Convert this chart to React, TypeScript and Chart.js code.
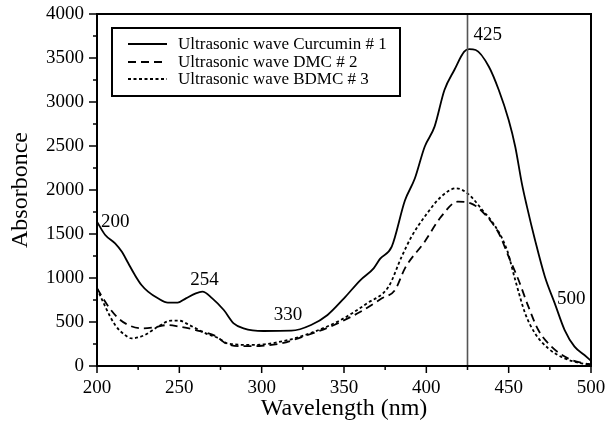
import React, { useEffect, useRef } from "react";
import { Chart, registerables } from "chart.js";

Chart.register(...registerables);

// ---- Data ----
const curcuminX = [200, 205, 211, 215, 219, 223, 227, 231, 237, 243, 249, 254, 260, 264, 270, 277, 283, 289, 301, 318, 330, 340, 350, 360, 368, 372, 379, 387, 393, 399, 405, 411, 417, 423, 426, 430, 438, 444, 450, 454, 458, 461, 466, 472, 478, 484, 490, 496, 500];
const curcuminY = [1640, 1489, 1394, 1300, 1167, 1034, 920, 845, 769, 720, 720, 769, 826, 845, 769, 636, 485, 428, 398, 401, 466, 580, 769, 977, 1110, 1220, 1356, 1880, 2130, 2492, 2720, 3136, 3364, 3572, 3600, 3591, 3401, 3136, 2795, 2492, 2076, 1820, 1432, 1015, 712, 409, 220, 125, 60];

const dmcX = [200, 207, 213, 219, 227, 235, 243, 250, 260, 272, 279, 290, 300, 312, 328, 344, 360, 373, 381, 387, 399, 409, 419, 427, 435, 444, 450, 456, 462, 468, 476, 486, 496, 500];
const dmcY = [883, 674, 542, 466, 428, 440, 466, 447, 409, 340, 250, 225, 230, 258, 352, 466, 617, 769, 864, 1110, 1413, 1697, 1867, 1849, 1735, 1508, 1242, 977, 674, 409, 220, 87, 30, 20];

const bdmcX = [200, 205, 211, 217, 221, 229, 237, 245, 250, 256, 266, 274, 279, 295, 316, 332, 348, 364, 377, 385, 391, 399, 409, 418, 425, 434, 442, 449, 454, 460, 466, 474, 484, 496, 500];
const bdmcY = [883, 674, 466, 352, 314, 352, 447, 515, 515, 466, 371, 314, 258, 239, 295, 390, 523, 712, 900, 1242, 1470, 1697, 1924, 2019, 1962, 1773, 1583, 1318, 977, 599, 371, 201, 87, 23, 15];

const seriesNames = ["Ultrasonic wave Curcumin # 1", "Ultrasonic wave DMC # 2", "Ultrasonic wave BDMC # 3"];

const peakLabels = ["200", "254", "330", "425", "500"];
const peakLabelX = [202.4, 256.7, 307.3, 428.7, 479.3];
const peakLabelY = [1580, 920, 523, 3705, 705];
const markerLine = 425;

const X_MIN = 200, X_MAX = 500, Y_MIN = 0, Y_MAX = 4000;

const SERIF = "'Liberation Serif', 'Times New Roman', serif";

const toPoints = (xs: number[], ys: number[]) => xs.map((x, i) => ({ x, y: ys[i] }));

const dashes: number[][] = [[], [8, 5], [3, 2.5]];

const overlayPlugin = {
  id: "overlay",
  afterDraw(chart: any) {
    const { ctx, chartArea } = chart;
    const xs = chart.scales.x;
    const ys = chart.scales.y;
    const { left, right, top, bottom } = chartArea;
    ctx.save();

    // vertical marker line
    const mx = xs.getPixelForValue(markerLine);
    ctx.strokeStyle = "#555";
    ctx.lineWidth = 1.6;
    ctx.beginPath();
    ctx.moveTo(mx, top);
    ctx.lineTo(mx, bottom);
    ctx.stroke();

    // frame
    ctx.strokeStyle = "#000";
    ctx.lineWidth = 2;
    ctx.strokeRect(left, top, right - left, bottom - top);

    // ticks
    ctx.lineWidth = 1.5;
    ctx.beginPath();
    for (let v = Y_MIN; v <= Y_MAX; v += 250) {
      const p = ys.getPixelForValue(v);
      const len = v % 500 === 0 ? 8 : 4;
      ctx.moveTo(left, p);
      ctx.lineTo(left - len, p);
    }
    for (let v = X_MIN; v <= X_MAX; v += 25) {
      const p = xs.getPixelForValue(v);
      const len = v % 50 === 0 ? 7 : 4;
      ctx.moveTo(p, bottom);
      ctx.lineTo(p, bottom + len);
    }
    ctx.stroke();

    // peak labels
    ctx.fillStyle = "#000";
    ctx.font = `19px ${SERIF}`;
    ctx.textAlign = "left";
    ctx.textBaseline = "alphabetic";
    peakLabels.forEach((t, i) => {
      ctx.fillText(t, xs.getPixelForValue(peakLabelX[i]), ys.getPixelForValue(peakLabelY[i]));
    });

    // legend box
    const bx = 112, by = 28, bw = 288, bh = 68;
    ctx.lineWidth = 2;
    ctx.strokeStyle = "#000";
    ctx.strokeRect(bx, by, bw, bh);
    ctx.font = `17px ${SERIF}`;
    ctx.textBaseline = "middle";
    const rows = [44, 62, 79];
    seriesNames.forEach((name, i) => {
      ctx.lineWidth = 1.8;
      ctx.setLineDash(dashes[i]);
      ctx.beginPath();
      ctx.moveTo(128, rows[i]);
      ctx.lineTo(167, rows[i]);
      ctx.stroke();
      ctx.setLineDash([]);
      ctx.fillText(name, 178, rows[i] + 1);
    });

    ctx.restore();
  },
};

export default function App() {
  const ref = useRef<HTMLCanvasElement>(null);

  useEffect(() => {
    if (!ref.current) return;
    const sets = [
      toPoints(curcuminX, curcuminY),
      toPoints(dmcX, dmcY),
      toPoints(bdmcX, bdmcY),
    ];
    const chart = new Chart(ref.current, {
      type: "line",
      data: {
        datasets: sets.map((d, i) => ({
          label: seriesNames[i],
          data: d,
          borderColor: "#000",
          borderWidth: 1.8,
          borderDash: dashes[i],
          pointRadius: 0,
          fill: false,
          cubicInterpolationMode: "monotone" as const,
        })),
      },
      options: {
        responsive: false,
        animation: false,
        events: [],
        layout: { padding: { left: 0, top: 14, right: 16, bottom: 0 } },
        plugins: { legend: { display: false }, tooltip: { enabled: false } },
        scales: {
          x: {
            type: "linear",
            min: X_MIN,
            max: X_MAX,
            grid: { display: false },
            border: { display: false },
            ticks: {
              stepSize: 50,
              color: "#000",
              font: { family: SERIF, size: 19 },
              padding: 3,
              maxRotation: 0,
              callback: (v: any) => String(v),
            },
            title: {
              display: true,
              text: "Wavelength (nm)",
              color: "#000",
              font: { family: SERIF, size: 24 },
              padding: { top: 0, bottom: 2 },
            },
            afterFit: (s: any) => {
              s.height = 59;
              s.paddingLeft = 0;
              s.paddingRight = 0;
            },
          },
          y: {
            type: "linear",
            min: Y_MIN,
            max: Y_MAX,
            grid: { display: false },
            border: { display: false },
            ticks: {
              stepSize: 500,
              color: "#000",
              font: { family: SERIF, size: 19 },
              padding: 5,
              callback: (v: any) => String(v),
            },
            title: {
              display: true,
              text: "Absorbonce",
              color: "#000",
              font: { family: SERIF, size: 24 },
              padding: { top: 6, bottom: 0 },
            },
            afterFit: (s: any) => {
              s.width = 97;
              s.paddingTop = 0;
              s.paddingBottom = 0;
            },
          },
        },
      },
      plugins: [overlayPlugin],
    });
    return () => chart.destroy();
  }, []);

  return (
    <div style={{ position: "absolute", left: 0, top: 0, width: 607, height: 425, background: "#fff" }}>
      <canvas ref={ref} width={607} height={425} />
    </div>
  );
}
